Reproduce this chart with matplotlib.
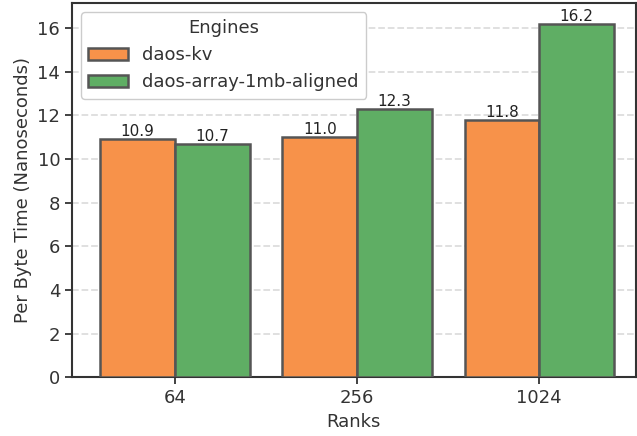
import numpy as np
import matplotlib
matplotlib.use("Agg")
import matplotlib.pyplot as plt

ranks = ["64", "256", "1024"]
engines = ["daos-kv", "daos-array-1mb-aligned"]
daos_kv = [10.9, 11.0, 11.8]
daos_array = [10.7, 12.3, 16.2]

colors = ["#f7924a", "#5fae64"]
txt = "#333333"

plt.rcParams["text.color"] = txt
plt.rcParams["axes.labelcolor"] = txt
plt.rcParams["xtick.color"] = txt
plt.rcParams["ytick.color"] = txt

fig, ax = plt.subplots(figsize=(6.37, 4.36), dpi=100)

x = np.arange(len(ranks))
w = 0.41
for i, (vals, name) in enumerate(zip([daos_kv, daos_array], engines)):
    bars = ax.bar(x + (i - 0.5) * w, vals, w, label=name, color=colors[i],
                  edgecolor="#555555", linewidth=1.8, zorder=3)
    ax.bar_label(bars, labels=[f"{v:.1f}" for v in vals], fontsize=11,
                 padding=0, color="#222222")

ax.set_xticks(x)
ax.set_xticklabels(ranks)
ax.set_xlim(-0.565, 2.53)
ax.set_ylim(0, 17.15)
ax.set_xlabel("Ranks", fontsize=13)
ax.set_ylabel("Per Byte Time (Nanoseconds)", fontsize=13)
ax.tick_params(labelsize=13, length=5, width=1.3, color="#333333")
ax.yaxis.grid(True, linestyle="--", color="#dddddd", linewidth=1.3, zorder=0)
ax.set_axisbelow(True)
for s in ax.spines.values():
    s.set_linewidth(1.5)
    s.set_color("#333333")

leg = ax.legend(title="Engines", loc="upper left", fontsize=13,
                title_fontsize=13, framealpha=1, edgecolor="#cccccc",
                handlelength=2.2)

fig.subplots_adjust(left=0.113, right=0.998, top=0.993, bottom=0.135)
fig.savefig("out.png", dpi=100)
